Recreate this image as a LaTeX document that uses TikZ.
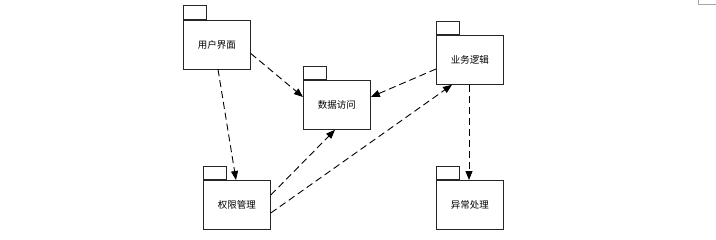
\documentclass[tikz,border=0pt]{standalone}
\usepackage{fontspec}
\newfontfamily\cjk{Noto Sans CJK SC}
\usetikzlibrary{arrows.meta}
\begin{document}
\begin{tikzpicture}[x=1pt,y=-1pt,
  pkgbody/.style={draw=black!85,line width=0.8pt,fill=white,minimum width=67pt,minimum height=49pt,inner sep=0pt,anchor=north west,font=\cjk\fontsize{9.5}{11}\selectfont},
  pkgtab/.style={draw=black!85,line width=0.8pt,fill=white,minimum width=23pt,minimum height=13.5pt,inner sep=0pt,anchor=south west},
  dep/.style={draw=black,line width=0.9pt,dash pattern=on 7pt off 4pt,-{Triangle[length=9pt,width=7pt]}}]
\useasboundingbox (0,0) rectangle (716,239);
\draw[black!35,line width=0.6pt] (698,0) -- (698,4) -- (716,4);
% packages
\node[pkgbody] (ui) at (183,19.5) {用户界面};
\node[pkgtab] (uit) at (ui.north west) {};
\node[pkgbody] (da) at (303,80) {数据访问};
\node[pkgtab] (dat) at (da.north west) {};
\node[pkgbody] (bl) at (436,35) {业务逻辑};
\node[pkgtab] (blt) at (bl.north west) {};
\node[pkgbody] (pm) at (203,180) {权限管理};
\node[pkgtab] (pmt) at (pm.north west) {};
\node[pkgbody] (ex) at (436,180) {异常处理};
\node[pkgtab] (ext) at (ex.north west) {};
% dependencies
\draw[dep] ([yshift=-34pt]ui.north east) -- ([yshift=-17pt]da.north west);
\draw[dep] ([xshift=35pt]ui.south west) -- ([xshift=33pt]pm.north west);
\draw[dep] ([yshift=-34pt]bl.north west) -- ([yshift=-17pt]da.north east);
\draw[dep] ([yshift=-15pt]pm.north east) -- ([xshift=32pt]da.south west);
\draw[dep] ([yshift=-33pt]pm.north east) -- ([xshift=16pt]bl.south west);
\draw[dep] ([xshift=33pt]bl.south west) -- ([xshift=33pt]ex.north west);
\end{tikzpicture}
\end{document}
